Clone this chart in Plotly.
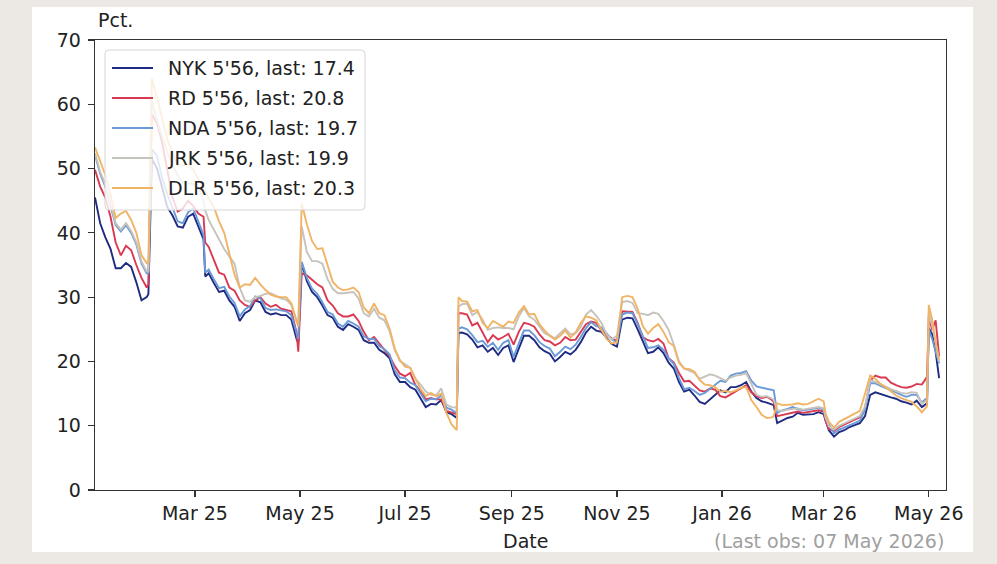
import plotly.graph_objects as go

dates = [
    "2025-01-02","2025-01-05","2025-01-08","2025-01-11","2025-01-14","2025-01-17","2025-01-20","2025-01-23","2025-01-26","2025-01-29",
    "2025-02-01","2025-02-02","2025-02-04","2025-02-07","2025-02-10","2025-02-13","2025-02-16","2025-02-19","2025-02-22","2025-02-25","2025-02-28",
    "2025-03-03","2025-03-06","2025-03-07","2025-03-09","2025-03-12","2025-03-15","2025-03-18","2025-03-21","2025-03-24","2025-03-27","2025-03-30",
    "2025-04-02","2025-04-05","2025-04-08","2025-04-11","2025-04-14","2025-04-17","2025-04-20","2025-04-23","2025-04-26","2025-04-29","2025-04-30",
    "2025-05-02","2025-05-05","2025-05-08","2025-05-11","2025-05-14","2025-05-17","2025-05-20","2025-05-23","2025-05-26","2025-05-29",
    "2025-06-01","2025-06-04","2025-06-07","2025-06-10","2025-06-13","2025-06-16","2025-06-19","2025-06-22","2025-06-25","2025-06-28",
    "2025-07-01","2025-07-04","2025-07-07","2025-07-10","2025-07-13","2025-07-16","2025-07-19","2025-07-22","2025-07-25","2025-07-28","2025-07-31",
    "2025-08-01","2025-08-03","2025-08-06","2025-08-09","2025-08-12","2025-08-15","2025-08-18","2025-08-21","2025-08-24","2025-08-27","2025-08-30",
    "2025-09-02","2025-09-05","2025-09-08","2025-09-11","2025-09-14","2025-09-17","2025-09-20","2025-09-23","2025-09-26","2025-09-29",
    "2025-10-02","2025-10-05","2025-10-08","2025-10-11","2025-10-14","2025-10-17","2025-10-20","2025-10-23","2025-10-26","2025-10-29",
    "2025-11-01","2025-11-04","2025-11-07","2025-11-10","2025-11-13","2025-11-16","2025-11-19","2025-11-22","2025-11-25","2025-11-28",
    "2025-12-01","2025-12-04","2025-12-07","2025-12-10","2025-12-13","2025-12-16","2025-12-19","2025-12-22","2025-12-25","2025-12-28","2025-12-31",
    "2026-01-03","2026-01-06","2026-01-09","2026-01-12","2026-01-15","2026-01-18","2026-01-21","2026-01-24","2026-01-27","2026-01-30","2026-01-31",
    "2026-02-02","2026-02-05","2026-02-08","2026-02-11","2026-02-14","2026-02-17","2026-02-20","2026-02-23","2026-02-26",
    "2026-03-01","2026-03-02","2026-03-04","2026-03-07","2026-03-10","2026-03-13","2026-03-16","2026-03-19","2026-03-22","2026-03-25","2026-03-28","2026-03-31",
    "2026-04-03","2026-04-06","2026-04-09","2026-04-12","2026-04-15","2026-04-18","2026-04-21","2026-04-24","2026-04-27","2026-04-30",
    "2026-05-01","2026-05-03","2026-05-05","2026-05-07",
]

nyk = [
    45.5, 41.5, 39.3, 37.5, 34.5, 34.5, 35.3, 34.7, 32.3, 29.5,
    30.0, 30.5, 51.5, 50.0, 47.0, 44.0, 42.7, 41.0, 40.8, 42.5, 43.0,
    41.0, 39.0, 33.2, 33.7, 32.2, 30.8, 31.0, 29.5, 28.5, 26.3, 27.5,
    28.0, 29.5, 29.2, 27.7, 27.3, 27.5, 27.2, 27.2, 26.5, 23.5, 22.9,
    35.3, 32.5, 30.8, 30.0, 28.7, 27.2, 26.8, 25.4, 24.9, 25.8,
    25.4, 24.9, 23.3, 22.9, 22.9, 21.8, 21.3, 20.5, 18.0, 16.8,
    16.8, 16.0, 15.6, 14.2, 12.9, 13.4, 13.3, 14.0, 12.1, 11.8, 11.2,
    24.4, 24.5, 24.2, 23.4, 22.2, 22.5, 21.5, 22.1, 21.0, 22.1, 22.5,
    19.9, 22.0, 24.0, 24.0, 23.3, 22.2, 21.6, 21.2, 20.0, 20.7,
    21.5, 21.1, 21.8, 23.0, 24.5, 25.4, 24.8, 24.6, 23.6, 22.7,
    22.3, 26.5, 26.8, 26.7, 25.0, 23.0, 21.3, 21.5, 22.2, 21.3,
    19.8, 18.9, 16.8, 15.3, 15.6, 14.7, 13.7, 13.4, 14.1, 14.7, 15.5,
    15.2, 16.0, 16.0, 16.3, 16.8, 15.3, 14.3, 13.8, 13.6, 13.3, 13.2,
    10.4, 10.8, 11.2, 11.4, 12.0, 11.7, 11.8, 11.8, 12.1,
    11.8, 10.9, 9.3, 8.3, 9.0, 9.3, 9.8, 10.1, 10.4, 11.5, 14.8, 15.2,
    14.9, 14.7, 14.4, 14.2, 13.8, 13.6, 13.3, 13.9, 12.9, 13.5,
    25.2, 24.2, 21.5, 17.4,
]

rd = [
    49.8, 47.2, 45.5, 42.5, 38.5, 36.5, 38.0, 37.3, 35.0, 33.0,
    31.5, 32.0, 58.5, 57.0, 54.0, 49.5, 45.5, 43.3, 43.8, 45.0, 44.2,
    43.0, 42.5, 38.5, 37.8, 35.8, 33.8, 33.5, 31.5, 31.0, 29.5, 28.8,
    28.5, 29.5, 30.0, 29.0, 28.5, 28.8, 28.2, 28.0, 27.8, 24.5, 21.5,
    33.7, 33.4, 32.7, 32.0, 31.5, 29.5, 28.7, 27.5, 27.0, 27.0,
    27.3, 26.3, 24.6, 23.3, 23.8, 22.8, 21.8, 20.8, 19.3, 18.1,
    17.7, 18.2, 16.3, 15.4, 14.1, 14.3, 14.1, 14.1, 12.3, 12.0, 11.8,
    27.5, 27.5, 27.3, 25.6, 26.0, 24.5, 23.0, 24.1, 23.4, 23.8, 24.3,
    22.6, 24.6, 26.0, 25.8, 25.4, 24.2, 23.3, 23.1, 22.5, 22.9,
    23.8, 23.3, 23.4, 24.6, 25.8, 26.2, 26.0, 24.8, 24.1, 23.6,
    23.2, 27.8, 27.8, 27.7, 26.0, 23.8, 23.3, 23.1, 23.5, 22.8,
    20.5, 19.8, 18.2, 16.9, 17.0, 16.2, 15.5, 15.3, 15.8, 15.6, 14.6,
    14.4, 14.9, 15.3, 15.9, 16.3, 15.2, 14.6, 14.3, 14.5, 14.0, 13.7,
    11.5, 11.7, 11.9, 12.0, 12.2, 12.0, 12.1, 12.3, 12.4,
    12.2, 10.8, 9.5, 9.2, 9.8, 10.2, 10.6, 10.9, 11.3, 12.8, 17.0, 17.8,
    17.5, 17.5, 16.7, 16.3, 16.0, 15.9, 16.1, 16.5, 16.4, 17.6,
    27.0, 24.9, 26.4, 20.8,
]

nda = [
    52.1, 49.2, 47.2, 44.2, 41.2, 40.2, 41.2, 40.0, 38.2, 35.2,
    33.7, 33.7, 53.0, 52.0, 48.5, 46.0, 44.0, 41.8, 41.5, 43.2, 43.8,
    41.8, 39.7, 33.8, 34.3, 32.8, 31.4, 31.6, 30.1, 29.1, 27.0, 28.1,
    28.6, 30.1, 29.8, 28.3, 28.0, 28.1, 27.9, 27.8, 27.2, 24.2, 23.5,
    35.5, 33.0, 31.3, 30.5, 29.2, 27.7, 27.3, 25.9, 25.4, 26.3,
    25.9, 25.4, 23.9, 23.5, 23.5, 22.4, 21.9, 21.1, 18.6, 17.5,
    17.4, 16.7, 16.3, 15.0, 13.8, 14.2, 14.1, 14.7, 12.8, 12.5, 11.9,
    25.1, 25.3, 25.0, 24.1, 23.0, 23.2, 22.3, 22.9, 21.8, 22.9, 23.3,
    20.7, 22.8, 24.8, 24.8, 24.1, 23.0, 22.4, 22.0, 20.8, 21.5,
    22.3, 21.9, 22.6, 23.8, 25.2, 26.1, 25.5, 25.3, 24.3, 23.4,
    23.0, 27.3, 27.6, 27.5, 25.8, 23.8, 22.1, 22.2, 22.5, 21.8,
    20.5, 19.6, 17.4, 15.7, 15.9, 15.4, 14.8, 15.1, 15.7, 16.3, 17.0,
    16.8, 17.8, 18.1, 18.2, 18.5, 17.0, 16.1, 15.9, 15.8, 15.6, 15.5,
    12.0, 12.4, 12.6, 12.9, 12.6, 12.4, 12.5, 12.6, 12.8,
    12.5, 11.3, 10.2, 8.8, 9.4, 9.7, 10.1, 10.4, 10.8, 12.5, 16.6, 16.6,
    16.2, 15.9, 15.6, 15.2, 14.8, 14.5, 14.8, 14.8, 13.6, 14.3,
    24.9, 23.5, 21.5, 19.7,
]

jrk = [
    52.4, 49.5, 47.5, 44.5, 41.5, 40.5, 41.5, 40.3, 38.5, 35.5,
    34.0, 34.0, 60.5, 57.5, 55.0, 52.5, 50.5, 49.0, 47.8, 47.7, 47.6,
    47.1, 45.0, 43.5, 42.0, 40.5, 39.0, 37.5, 36.3, 35.2, 31.5, 29.5,
    29.3, 30.0, 30.2, 30.5, 30.6, 30.2, 29.8, 29.6, 28.8, 26.3, 25.8,
    41.0, 37.0, 35.6, 35.6, 35.2, 32.8, 31.3, 30.6, 30.6, 30.7,
    30.8, 29.8, 27.5, 27.0, 28.2, 26.8, 26.4, 24.7, 21.8, 20.1,
    19.6, 19.0, 17.3, 16.4, 15.3, 14.8, 14.7, 15.8, 13.3, 12.9, 12.8,
    28.5, 28.9, 29.0, 27.2, 27.7, 26.5, 24.9, 25.2, 25.3, 25.2, 25.2,
    25.0, 27.0, 28.3, 27.0, 26.5, 25.5, 24.4, 24.0, 23.6, 24.4,
    25.1, 24.2, 24.4, 25.4, 27.3, 28.0, 27.1, 26.0, 24.2, 23.4,
    24.0, 29.2, 29.4, 29.1, 27.5, 27.4, 27.2, 27.6, 27.4, 26.3,
    24.9, 22.6, 20.0, 18.9, 18.6, 18.2, 17.3, 17.6, 18.0, 17.8, 17.4,
    17.0, 17.5, 17.8, 17.9, 18.2, 16.5, 14.8, 14.5, 14.6, 14.2, 14.0,
    12.4, 12.3, 12.5, 12.6, 12.7, 12.5, 12.6, 12.8, 12.9,
    12.7, 11.4, 9.9, 9.4, 10.0, 10.4, 10.8, 11.1, 11.5, 13.0, 17.1, 16.8,
    16.4, 16.1, 15.7, 15.4, 15.1, 15.0, 15.2, 15.1, 13.4, 14.0,
    27.5, 25.5, 23.0, 19.9,
]

dlr = [
    53.3, 51.1, 49.0, 46.0, 42.3, 43.0, 43.4, 42.0, 40.0, 36.5,
    35.3, 35.5, 64.0, 61.0, 57.5, 54.5, 52.5, 50.5, 50.5, 50.7, 49.8,
    48.5, 47.0, 46.5, 45.3, 44.0, 41.8, 40.0, 36.5, 33.5, 31.5, 32.0,
    31.9, 33.0, 32.0, 31.1, 30.4, 30.1, 30.0, 30.0, 29.0, 26.0, 25.4,
    44.6, 41.3, 38.7, 37.5, 37.6, 35.0, 32.4, 31.5, 31.1, 31.2,
    31.5, 30.8, 28.4, 27.5, 29.0, 27.5, 27.2, 25.1, 22.0, 20.2,
    19.2, 19.0, 17.3, 15.7, 14.6, 15.1, 14.6, 15.0, 12.0, 10.2, 9.3,
    30.0, 29.4, 29.3, 27.8, 28.0, 26.0, 25.2, 26.3, 25.9, 25.4, 26.2,
    26.0, 27.6, 28.6, 27.3, 27.4, 25.8, 24.8, 24.0, 23.4, 24.0,
    24.8, 23.7, 24.5, 26.0, 27.0, 26.8, 26.4, 24.9, 23.5, 22.8,
    23.0, 30.0, 30.2, 30.0, 28.2, 25.5, 24.3, 25.2, 25.8, 24.6,
    23.0, 22.4, 19.8, 18.9, 18.8, 18.4, 17.1, 16.4, 16.3, 16.0, 15.3,
    15.4, 15.2, 15.5, 15.9, 16.0, 14.0, 12.9, 11.7, 11.2, 11.3, 11.5,
    13.5, 13.2, 13.2, 13.3, 13.5, 13.3, 13.4, 13.8, 14.2,
    13.8, 12.0, 10.6, 9.7, 10.6, 11.0, 11.5, 11.9, 12.3, 15.0, 17.8, 17.3,
    16.5, 16.0, 15.3, 14.7, 14.3, 14.0, 13.7, 13.0, 12.1, 13.0,
    28.8, 26.5, 22.9, 20.3,
]

series_names = ["NYK 5'56", "RD 5'56", "NDA 5'56", "JRK 5'56", "DLR 5'56"]
series_values = [nyk, rd, nda, jrk, dlr]
series_colors = ["#1f2a82", "#d93a52", "#6a9ad8", "#c6c2bc", "#f0b466"]

tick_dates = ["2025-03-01", "2025-05-01", "2025-07-01", "2025-09-01",
              "2025-11-01", "2026-01-01", "2026-03-01", "2026-05-01"]
tick_labels = ["Mar 25", "May 25", "Jul 25", "Sep 25",
               "Nov 25", "Jan 26", "Mar 26", "May 26"]
y_ticks = [0, 10, 20, 30, 40, 50, 60, 70]

FONT = "DejaVu Sans"
FS = 19
TXT = "#222222"

W, H = 997, 564
L, R, T, B = 95, 51, 40, 74
pw, ph = W - L - R, H - T - B


def px_x(p):
    return (p - L) / pw


def px_y(p):
    return (H - B - p) / ph


def rounded_rect_path(x0, y0, x1, y1, r):
    # pixel coordinates (y down) -> paper-coordinate SVG path with rounded corners
    X = px_x
    Y = px_y
    return (
        f"M{X(x0 + r)},{Y(y0)} L{X(x1 - r)},{Y(y0)} Q{X(x1)},{Y(y0)} {X(x1)},{Y(y0 + r)} "
        f"L{X(x1)},{Y(y1 - r)} Q{X(x1)},{Y(y1)} {X(x1 - r)},{Y(y1)} "
        f"L{X(x0 + r)},{Y(y1)} Q{X(x0)},{Y(y1)} {X(x0)},{Y(y1 - r)} "
        f"L{X(x0)},{Y(y0 + r)} Q{X(x0)},{Y(y0)} {X(x0 + r)},{Y(y0)} Z"
    )


fig = go.Figure()
for name, vals, col in zip(series_names, series_values, series_colors):
    fig.add_trace(go.Scatter(
        x=dates, y=vals, mode="lines",
        name=f"{name}, last: {vals[-1]:.1f}",
        showlegend=False,
        line=dict(color=col, width=1.9),
    ))

shapes = [dict(
    type="rect", xref="paper", yref="paper", layer="below",
    x0=px_x(32), x1=px_x(973), y0=px_y(552), y1=px_y(7),
    fillcolor="white", line=dict(width=0),
)]
# legend box (matplotlib style)
shapes.append(dict(
    type="path", xref="paper", yref="paper", layer="above",
    path=rounded_rect_path(105, 50, 365, 210, 4),
    fillcolor="rgba(255,255,255,0.8)", line=dict(color="#d6d6d6", width=1),
))
annotations = []
legend_rows = [68, 98, 128, 158, 188]
for row_y, name, vals, col in zip(legend_rows, series_names, series_values, series_colors):
    shapes.append(dict(
        type="line", xref="paper", yref="paper", layer="above",
        x0=px_x(112), x1=px_x(153), y0=px_y(row_y), y1=px_y(row_y),
        line=dict(color=col, width=1.9),
    ))
    annotations.append(dict(
        text=f"{name}, last: {vals[-1]:.1f}", xref="paper", yref="paper",
        x=px_x(166), y=px_y(row_y), xanchor="left", yanchor="middle",
        showarrow=False, font=dict(family=FONT, size=FS, color=TXT),
    ))

annotations += [
    dict(text="Pct.", xref="paper", yref="paper", x=px_x(96), y=px_y(20),
         xanchor="left", yanchor="middle", showarrow=False,
         font=dict(family=FONT, size=FS, color=TXT)),
    dict(text="Date", xref="paper", yref="paper", x=px_x(525), y=px_y(541),
         xanchor="center", yanchor="middle", showarrow=False,
         font=dict(family=FONT, size=FS, color=TXT)),
    dict(text="(Last obs: 07 May 2026)", xref="paper", yref="paper",
         x=px_x(946), y=px_y(541), xanchor="right", yanchor="middle",
         showarrow=False, font=dict(family=FONT, size=FS, color="#a0a0a0")),
]

fig.update_layout(
    width=W, height=H,
    margin=dict(l=L, r=R, t=T, b=B, pad=0),
    paper_bgcolor="#ece8e4",
    plot_bgcolor="white",
    font=dict(family=FONT, size=FS, color=TXT),
    showlegend=False,
    hovermode=False,
    xaxis=dict(
        type="date", range=["2025-01-02", "2026-05-11"],
        tickmode="array", tickvals=tick_dates, ticktext=tick_labels,
        showgrid=False, zeroline=False,
        showline=True, linecolor="#333333", linewidth=1.3, mirror=True,
        ticks="outside", ticklen=6, tickwidth=1.2, tickcolor="#333333",
        tickfont=dict(family=FONT, size=FS, color=TXT),
    ),
    yaxis=dict(
        range=[0, 70], tickmode="array", tickvals=y_ticks,
        showgrid=False, zeroline=False,
        showline=True, linecolor="#333333", linewidth=1.3, mirror=True,
        ticks="outside", ticklen=6, tickwidth=1.2, tickcolor="#333333",
        tickfont=dict(family=FONT, size=FS, color=TXT),
        ticklabelstandoff=3,
    ),
    shapes=shapes,
    annotations=annotations,
)

fig.write_html(
    "out.html",
    config={"displayModeBar": False, "staticPlot": True},
    post_script="document.body.style.margin='0';document.body.style.background='#ece8e4';",
)
